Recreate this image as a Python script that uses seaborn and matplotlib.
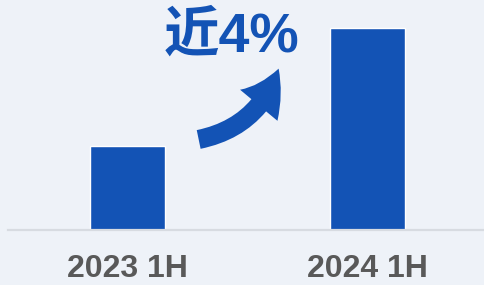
import matplotlib
matplotlib.use("Agg")
import matplotlib.pyplot as plt
import seaborn as sns
from matplotlib.patches import FancyArrowPatch

# Data
periods = ["2023 1H", "2024 1H"]
values = [42, 101]
growth_label = "近4%"

bar_color = "#1353b5"
bg_color = "#eef2f8"

sns.set_style("white")
plt.rcParams['font.family'] = ['Liberation Sans', 'Noto Sans CJK SC', 'DejaVu Sans']

fig = plt.figure(figsize=(4.84, 2.85), dpi=100, facecolor=bg_color)
ax = fig.add_axes([8 / 484, 55 / 285, 476 / 484, 230 / 285])
ax.set_facecolor(bg_color)

sns.barplot(x=periods, y=values, color=bar_color, saturation=1, width=0.3125, ax=ax)

ax.set_xlim(-0.498, 1.485)
ax.set_ylim(0, 115)
ax.set_xlabel("")
ax.set_ylabel("")
ax.set_yticks([])
ax.tick_params(axis='x', length=0, pad=17, labelsize=23, labelcolor="#595959")
for lbl in ax.get_xticklabels():
    lbl.set_fontweight("bold")

for s in ["top", "left", "right"]:
    ax.spines[s].set_visible(False)
ax.spines["bottom"].set_color("#d7dbe1")
ax.spines["bottom"].set_linewidth(1.6)

# growth annotation
ax.text(0.435, 96, growth_label, ha="center", va="center", fontsize=40,
        fontweight="bold", color=bar_color)

arrow = FancyArrowPatch((0.285, 45), (0.633, 82),
                        arrowstyle="simple,head_width=1.4,head_length=1.2,tail_width=0.55",
                        connectionstyle="arc3,rad=0.3",
                        mutation_scale=25, color=bar_color, lw=0)
ax.add_patch(arrow)

fig.savefig("out.png", dpi=100, facecolor=bg_color)
